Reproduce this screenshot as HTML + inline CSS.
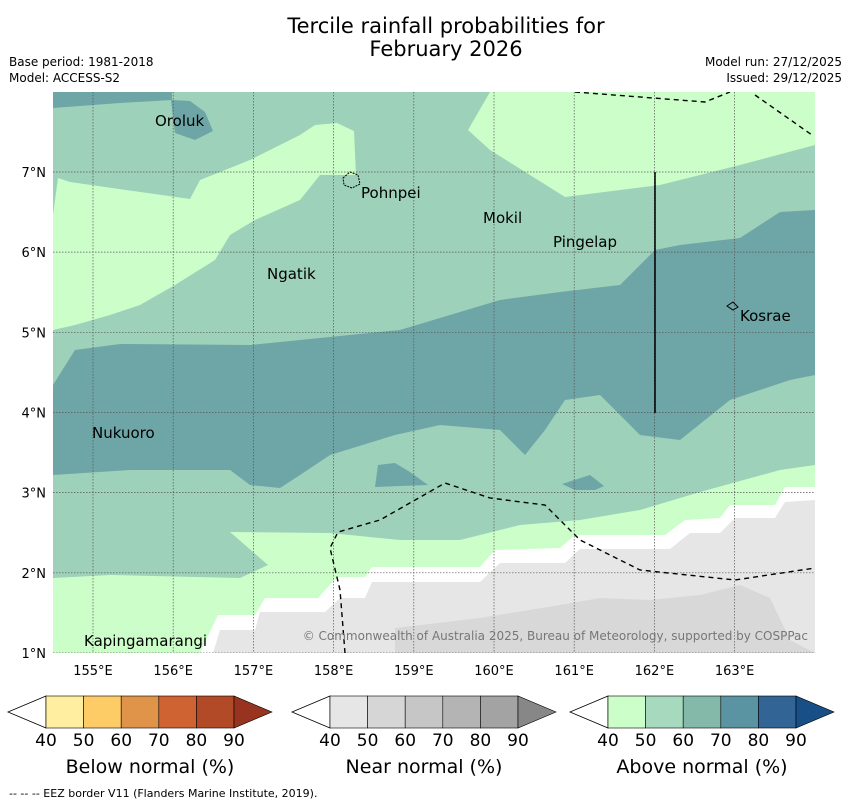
<!DOCTYPE html>
<html><head><meta charset="utf-8"><style>
body{margin:0;background:#fff;font-family:"DejaVu Sans","Liberation Sans",sans-serif}
svg{display:block}
</style></head><body>
<svg width="850" height="804" xmlns="http://www.w3.org/2000/svg" font-family="DejaVu Sans, Liberation Sans, sans-serif">
<g>
<text x="446" y="33" font-size="21" text-anchor="middle">Tercile rainfall probabilities for</text>
<text x="446" y="56" font-size="21" text-anchor="middle">February 2026</text></g>
<text x="9" y="66" font-size="12">Base period: 1981-2018</text>
<text x="9" y="82" font-size="12">Model: ACCESS-S2</text>
<text x="842" y="66" font-size="12" text-anchor="end">Model run: 27/12/2025</text>
<text x="842" y="82" font-size="12" text-anchor="end">Issued: 29/12/2025</text>
<defs><clipPath id="mc"><rect x="53" y="92" width="762" height="561"/></clipPath></defs>
<g clip-path="url(#mc)">
<rect x="53" y="92" width="762" height="561" fill="#9dd1b9"/>
<polygon fill="#ccfec9" points="468,130 490,92 815,92 815,145 740,165 660,185 565,197 490,150"/>
<polygon fill="#6ea5a7" points="53,92 172,92 172,100 120,103 53,108"/>
<polygon fill="#6ea5a7" points="170,92 172,100 190,101 205,112 213,131 195,140 175,133"/>
<polygon fill="#ccfec9" points="53,215 58,178 70,182 190,199 200,180 250,160 300,135 315,125 337,123 354,131 356,175 320,175 300,200 255,220 230,235 215,260 175,285 140,305 110,315 75,325 53,330"/>
<polygon fill="#6ea5a7" points="53,385 75,350 120,344 250,345 400,330 500,300 560,292 620,285 655,250 680,245 740,238 780,212 815,210 815,375 790,380 730,400 680,440 640,435 600,395 565,400 545,430 525,455 500,430 440,425 395,435 330,455 300,475 280,488 250,485 230,470 130,470 53,475"/>
<polygon fill="#6ea5a7" points="378,465 395,463 410,472 428,485 375,487"/>
<polygon fill="#6ea5a7" points="562,484 590,475 604,486 595,490 575,490"/>
<polygon fill="#ccfec9" points="53,578 110,575 240,578 268,565 230,532 330,533 400,540 460,540 520,525 580,520 640,510 700,492 780,470 815,465 815,653 53,653"/>
<polygon fill="#ffffff" points="200,653 218,615 255,615 265,598 318,598 337,577 365,577 372,567 480,567 495,550 560,548 575,535 665,535 685,520 720,518 730,505 775,505 785,487 815,487 815,653"/>
<polygon fill="#e6e6e6" points="213,653 220,630 255,630 260,612 325,612 340,598 365,598 372,582 480,582 500,563 565,563 580,549 670,549 690,533 720,533 735,518 775,518 785,502 815,500 815,653"/>
<polygon fill="#d8d8d8" points="395,628 480,618 560,605 600,598 650,600 700,595 740,585 770,598 790,640 815,653 395,653"/>
<g id="grid" stroke="#555" stroke-width="0.7" stroke-dasharray="1.5,1.5"></g>
<g fill="none" stroke="#000" stroke-width="1.4" stroke-dasharray="5,4">
<path d="M575,92 L705,102 L730,92 M755,95 L812,135"/>
<path d="M345,653 L340,590 L330,548 L338,532 L380,520 L445,483 L490,498 L545,505 L580,540 L640,570 L735,580 L815,568"/>
</g>
<line x1="655" y1="172" x2="655" y2="413" stroke="#000" stroke-width="1.5"/>
<path d="M343,178 L350,172 L358,175 L360,184 L352,188 L344,185 Z" fill="none" stroke="#000" stroke-dasharray="2,1"/>
<path d="M727,306 L733,302 L738,307 L733,310 Z" fill="none" stroke="#000"/>
<g font-size="15">
<text x="155" y="126">Oroluk</text>
<text x="361" y="198">Pohnpei</text>
<text x="483" y="223">Mokil</text>
<text x="553" y="247">Pingelap</text>
<text x="267" y="279">Ngatik</text>
<text x="740" y="321">Kosrae</text>
<text x="92" y="438">Nukuoro</text>
<text x="84" y="646">Kapingamarangi</text>
</g>
<text x="808" y="640" font-size="12" fill="#777" text-anchor="end">© Commonwealth of Australia 2025, Bureau of Meteorology, supported by COSPPac</text>
</g>
<g id="ticks" font-size="13"></g>
<g id="lg1"></g>
<g id="lg2"></g>
<g id="lg3"></g>
<text x="9" y="797" font-size="11">--  --  -- EEZ border V11 (Flanders Marine Institute, 2019).</text>
</svg>
<script>
const lonTicks=[155,156,157,158,159,160,161,162,163];
const latTicks=[1,2,3,4,5,6,7];
const legendLevels=[40,50,60,70,80,90];
const belowColors=["#ffeea0","#fecc66","#e09449","#cf6332","#b34a27","#98331f"];
const nearColors=["#e6e6e6","#d6d6d6","#c6c6c6","#b4b4b4","#a3a3a3","#878787"];
const aboveColors=["#ccfec9","#a6d9bd","#84b8a8","#5a93a1","#326595","#184f86"];
const NS="http://www.w3.org/2000/svg";
const xLon=l=>93+(l-155)*80.2, yLat=l=>653-(l-1)*80.17;
const grid=document.getElementById('grid'),ticks=document.getElementById('ticks');
function mk(tag,at,parent){const e=document.createElementNS(NS,tag);for(const k in at)e.setAttribute(k,at[k]);parent.appendChild(e);return e;}
lonTicks.forEach(l=>{
 const g=mk('line',{x1:xLon(l),x2:xLon(l),y1:92,y2:653},grid);
 
 
 const t=mk('text',{x:xLon(l),y:675,'text-anchor':'middle'},ticks);t.textContent=l+'°E';
 
 
});
latTicks.forEach(l=>{
 const g=mk('line',{x1:53,x2:815,y1:yLat(l),y2:yLat(l)},grid);
 
 
 const t=mk('text',{x:46,y:yLat(l)+5,'text-anchor':'end'},ticks);t.textContent=l+'°N';
 
 
});
function legend(id,x0,colors,title,cx){
 const g=document.getElementById(id),w=37.6,y0=696,h=32;
 const tri=mk('polygon',{points:`${x0},${y0} ${x0},${y0+h} ${x0-38},${y0+h/2}`,fill:'#fff',stroke:'#000','stroke-width':0.8},g);
 
 
 colors.forEach((c,i)=>{
  if(i<5){const r=mk('rect',{x:x0+i*w,y:y0,width:w,height:h,fill:c,stroke:'#000','stroke-width':0.6},g);
   
   }
  else{const p=mk('polygon',{points:`${x0+5*w},${y0} ${x0+5*w},${y0+h} ${x0+5*w+38},${y0+h/2}`,fill:c,stroke:'#000','stroke-width':0.6},g);
   
   }
 });
 legendLevels.forEach((v,i)=>{const t=mk('text',{x:x0+i*w,y:746,'font-size':17,'text-anchor':'middle'},g);t.textContent=v;
  
  });
 const tt=mk('text',{x:cx,y:773,'font-size':19,'text-anchor':'middle'},g);tt.textContent=title;
 
 
}
legend('lg1',46,belowColors,'Below normal (%)',150);
legend('lg2',330,nearColors,'Near normal (%)',424);
legend('lg3',608,aboveColors,'Above normal (%)',702);
</script>
</body></html>
